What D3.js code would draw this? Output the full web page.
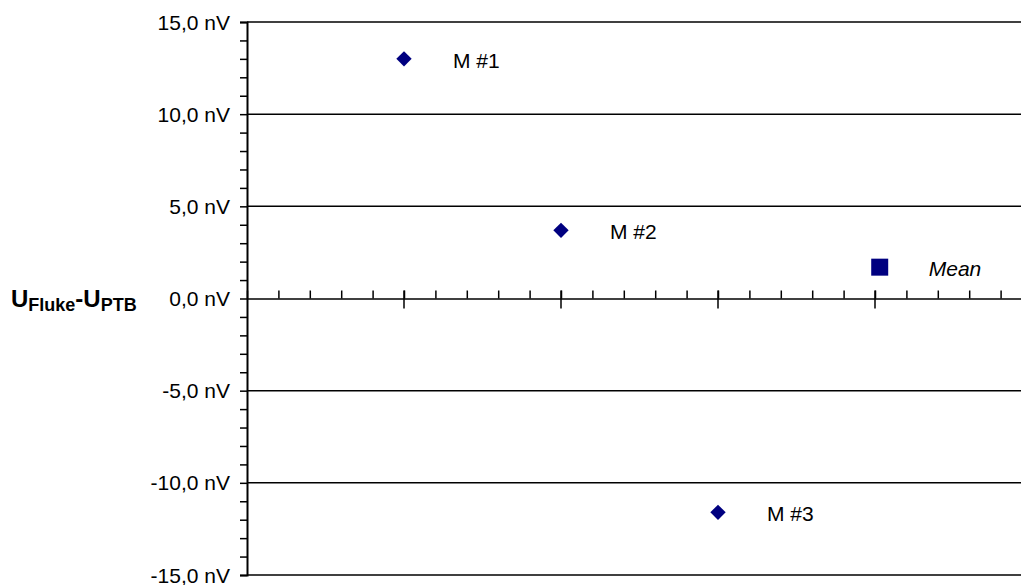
<!DOCTYPE html>
<html>
<head>
<meta charset="utf-8">
<script src="https://cdn.jsdelivr.net/npm/d3@7"></script>
<style>
  body { margin: 0; background: #fff; }
  text { font-family: "Liberation Sans", Arial, sans-serif; }
</style>
</head>
<body>
<div id="chart"></div>
<script>
// measurements (nV)
var labels = ["M #1", "M #2", "M #3", "Mean"];
var xpos = [1, 2, 3, 4.03];
var values = [13.0, 3.7, -11.6, 1.7];
var yTicks = [-15, -10, -5, 0, 5, 10, 15];

var width = 1021, height = 585;

var svg = d3.select("#chart")
  .append("svg")
    .attr("width", width)
    .attr("height", height);

var x = d3.scaleLinear()
  .domain([0, 5])
  .range([247, 1032]);

var y = d3.scaleLinear()
  .domain([-15, 15])
  .range([575, 22]);

var fmt = function(d) { return d.toFixed(1).replace(".", ",") + " nV"; };

// horizontal grid lines
svg.append("g")
  .selectAll("line")
  .data(yTicks.filter(function(d) { return d != 0; }))
  .enter()
  .append("line")
    .attr("x1", x(0))
    .attr("x2", width)
    .attr("y1", function(d) { return y(d); })
    .attr("y2", function(d) { return y(d); })
    .style("stroke", "#000")
    .style("stroke-width", 1.5);

// Y axis
var yAxis = svg.append("g")
  .attr("transform", "translate(" + x(0) + ",0)");
yAxis.call(d3.axisLeft(y).ticks(30).tickSize(7).tickFormat(""));
yAxis.select(".domain").style("stroke-width", 2);
yAxis.selectAll(".tick line").style("stroke-width", 1.5);

svg.append("g")
  .selectAll("text")
  .data(yTicks)
  .enter()
  .append("text")
    .attr("x", 230)
    .attr("y", function(d) { return y(d); })
    .attr("dy", "0.36em")
    .style("text-anchor", "end")
    .style("font-size", "21px")
    .text(fmt);

// X axis at zero
var xAxis = svg.append("g")
  .attr("transform", "translate(0," + y(0) + ")");
xAxis.call(d3.axisTop(x).ticks(25).tickSize(8).tickFormat("").tickSizeOuter(0));
xAxis.select(".domain").style("stroke-width", 1.5);
xAxis.selectAll(".tick line").style("stroke-width", 1.5);

// major ticks cross the axis
svg.append("g")
  .selectAll("line")
  .data([1, 2, 3, 4])
  .enter()
  .append("line")
    .attr("x1", function(d) { return x(d); })
    .attr("x2", function(d) { return x(d); })
    .attr("y1", y(0) - 8)
    .attr("y2", y(0) + 10)
    .style("stroke", "#000")
    .style("stroke-width", 1.5);

// axis title
var title = svg.append("text")
  .attr("x", 11)
  .attr("y", 307)
  .style("font-size", "24px")
  .style("font-weight", "bold");
title.append("tspan").text("U");
title.append("tspan").attr("dy", 4).style("font-size", "18px").text("Fluke");
title.append("tspan").attr("dy", -4).text("-U");
title.append("tspan").attr("dy", 4).style("font-size", "18px").text("PTB");

// points
var pts = labels.map(function(l, i) { return {label: l, x: xpos[i], v: values[i]}; });

svg.append("g")
  .selectAll("path")
  .data(pts)
  .enter()
  .append("path")
    .attr("transform", function(d) { return "translate(" + x(d.x) + "," + y(d.v) + ")"; })
    .attr("d", function(d) {
      return d.label == "Mean"
        ? d3.symbol().type(d3.symbolSquare).size(289)()
        : d3.symbol().type(d3.symbolDiamond2).size(150)();
    })
    .style("fill", "#000080");

svg.append("g")
  .selectAll("text")
  .data(pts)
  .enter()
  .append("text")
    .attr("x", function(d) { return x(d.x) + 49; })
    .attr("y", function(d) { return y(d.v) + 9; })
    .style("font-size", "21px")
    .style("font-style", function(d) { return d.label == "Mean" ? "italic" : "normal"; })
    .text(function(d) { return d.label; });
</script>
</body>
</html>
